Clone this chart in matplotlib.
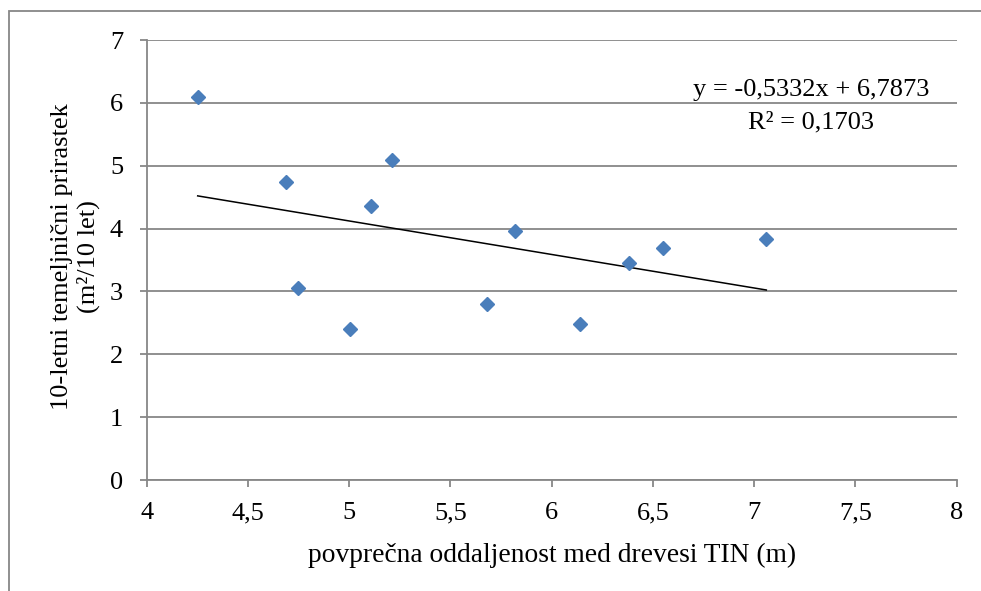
import numpy as np
import matplotlib
matplotlib.use("Agg")
import matplotlib.pyplot as plt
from matplotlib.patches import Rectangle
from matplotlib.ticker import FuncFormatter

# povprečna oddaljenost (m) in 10-letni temeljnični prirastek
razdalja = [4.252, 4.688, 4.749, 5.004, 5.108, 5.213, 5.680, 5.821, 6.139, 6.383, 6.551, 7.060]
prirastek = [6.09, 4.74, 3.05, 2.41, 4.36, 5.09, 2.80, 3.96, 2.48, 3.46, 3.69, 3.84]

# linearni trend
naklon = -0.5332
presecisce = 6.7873
r2 = 0.1703

x_ticks = [4, 4.5, 5, 5.5, 6, 6.5, 7, 7.5, 8]
y_ticks = [0, 1, 2, 3, 4, 5, 6, 7]

plt.rcParams["font.family"] = ["Liberation Serif", "DejaVu Serif"]

fig = plt.figure(figsize=(9.81, 5.91), dpi=100)
ax = fig.add_axes([0.1495, 0.1878, 0.8257, 0.7445])

siva = "#878787"
ax.set_xlim(4, 8)
ax.set_ylim(0, 7)
ax.set_xticks(x_ticks)
ax.set_yticks(y_ticks)
ax.xaxis.set_major_formatter(FuncFormatter(lambda v, p: f"{v:g}".replace(".", ",")))
ax.yaxis.set_major_formatter(FuncFormatter(lambda v, p: f"{v:g}"))
ax.tick_params(axis="both", direction="out", length=5, width=1.3, color=siva,
               labelsize=19, labelcolor="black")
ax.tick_params(axis="y", pad=12)
ax.tick_params(axis="x", pad=11)

for s in ["top", "right"]:
    ax.spines[s].set_visible(False)
for s in ["left", "bottom"]:
    ax.spines[s].set_color(siva)
    ax.spines[s].set_linewidth(1.3)

ax.yaxis.grid(True, color=siva, linewidth=1.3)
ax.set_axisbelow(True)

ax.plot(razdalja, prirastek, linestyle="none", marker="D", markersize=7.5,
        color="#4a7ebb", zorder=3)

xt = np.array([min(razdalja), max(razdalja)])
ax.plot(xt, naklon * xt + presecisce, color="black", linewidth=1.1, zorder=2)

enacba = f"y = {naklon:.4f}x + {presecisce:.4f}".replace(".", ",")
ax.text(811.5 / 981, 1 - 90 / 591, enacba, transform=fig.transFigure,
        ha="center", va="center", fontsize=19)
ax.text(811.5 / 981, 1 - 122 / 591, f"R² = {r2:.4f}".replace(".", ","),
        transform=fig.transFigure, ha="center", va="center", fontsize=19)

fig.text(552 / 981, 1 - 555 / 591, "povprečna oddaljenost med drevesi TIN (m)",
         ha="center", va="center", fontsize=19.8)
fig.text(62 / 981, 1 - 257 / 591, "10-letni temeljnični prirastek",
         ha="center", va="center", rotation=90, fontsize=19)
fig.text(88 / 981, 1 - 257 / 591, "(m²/10 let)",
         ha="center", va="center", rotation=90, fontsize=19)

# okvir grafikona
fig.patches.append(Rectangle((8.5 / 981, -0.1), 1.2, 1 - 11 / 591 + 0.1,
                             transform=fig.transFigure, fill=False,
                             edgecolor=siva, linewidth=1.3))

fig.savefig("out.png", dpi=100)
